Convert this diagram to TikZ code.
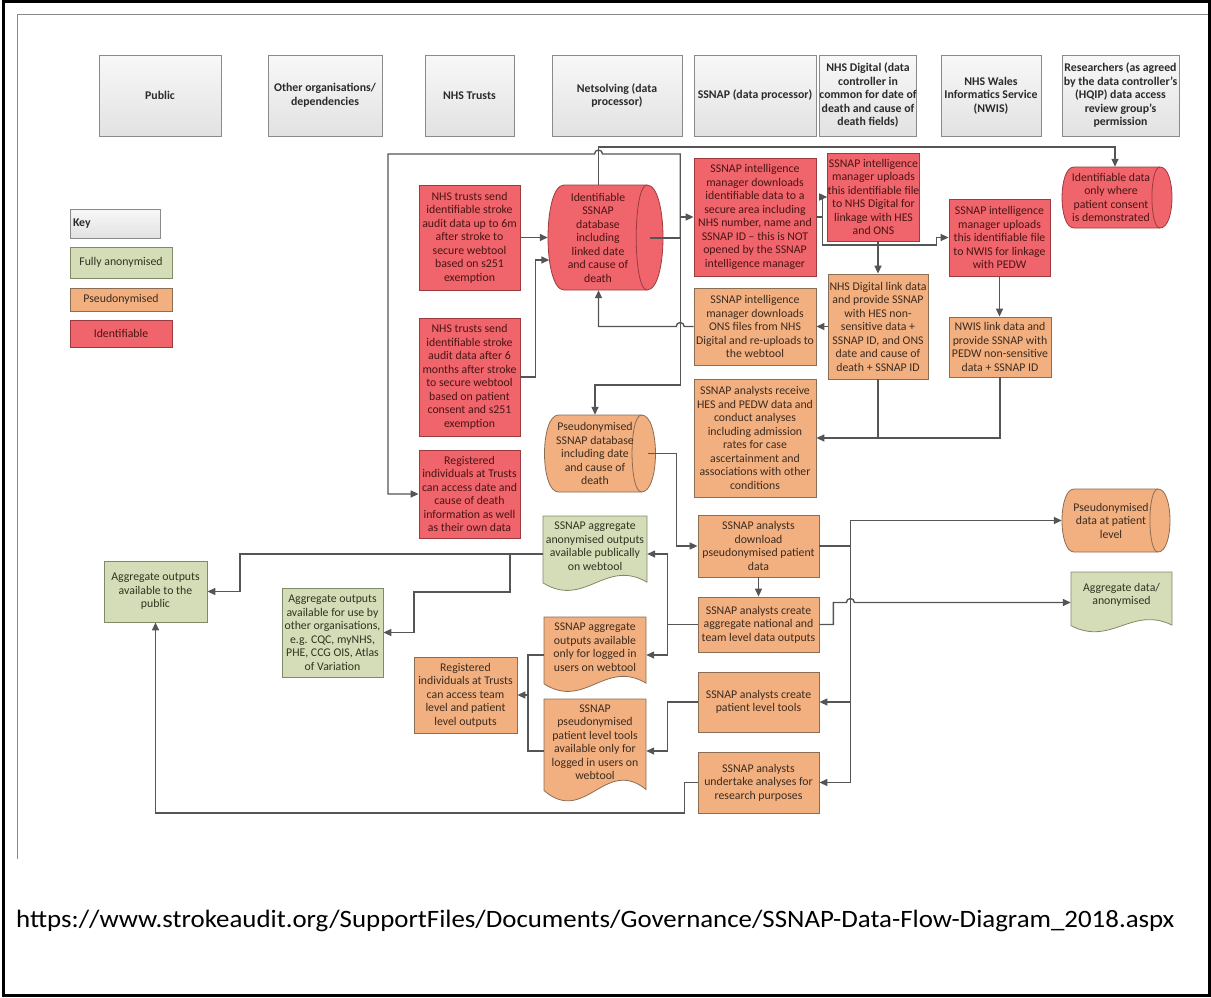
\documentclass[tikz,border=0pt]{standalone}
\usepackage{fontspec}
\setmainfont{Carlito}
\usetikzlibrary{arrows.meta,calc}
\definecolor{redF}{HTML}{F0646B}
\definecolor{redD}{HTML}{9B3B3F}
\definecolor{redT}{HTML}{4A1515}
\definecolor{orgF}{HTML}{F2B080}
\definecolor{orgD}{HTML}{8A6D55}
\definecolor{orgT}{HTML}{3D2B1F}
\definecolor{grnF}{HTML}{D5DDB8}
\definecolor{grnD}{HTML}{7F8A66}
\definecolor{grnT}{HTML}{2E3320}
\definecolor{hdrT}{HTML}{F8F8F8}
\definecolor{hdrB}{HTML}{E2E2E2}
\definecolor{hdrD}{HTML}{8A8A8A}
\definecolor{hdrX}{HTML}{2B2B2B}
\definecolor{connC}{HTML}{555555}
\newcommand\cylshape[7]{% x1 y1 x2 y2 fill draw d
 \path[fill=#5,draw=#6,line width=0.8pt] ({#1+#7},#2) -- ({#3-#7},#2)
   .. controls ({#3+0.333*#7},#2) and ({#3+0.333*#7},#4) .. ({#3-#7},#4)
   -- ({#1+#7},#4)
   .. controls ({#1-0.333*#7},#4) and ({#1-0.333*#7},#2) .. cycle;
 \draw[#6,line width=0.8pt] ({#3-#7},#2) .. controls ({#3-1.9*#7},#2) and ({#3-1.9*#7},#4) .. ({#3-#7},#4);}
\newcommand\docshape[6]{% x1 y1 x2 y2 fill draw
 \path[fill=#5,draw=#6,line width=0.8pt] (#1,#2) -- (#3,#2) -- (#3,{#2+0.87*(#4-#2)})
   .. controls ({#1+0.6*(#3-#1)},{#2+0.55*(#4-#2)}) and ({#1+0.4*(#3-#1)},{#2+1.22*(#4-#2)}) .. (#1,{#2+0.88*(#4-#2)}) -- cycle;}
\begin{document}
\begin{tikzpicture}[x=1pt,y=-1pt,
  fnt/.style={font=\fontsize{11.8}{13.5}\selectfont},
  box/.style={fnt, align=center, inner sep=0pt, line width=0.8pt},
  redbox/.style={box, fill=redF, draw=redD, text=redT},
  orgbox/.style={box, fill=orgF, draw=orgD, text=orgT},
  grnbox/.style={box, fill=grnF, draw=grnD, text=grnT},
  hdr/.style={box, top color=hdrT, bottom color=hdrB, draw=hdrD, text=hdrX, font=\bfseries\fontsize{11.8}{13.5}\selectfont},
  ghost/.style={inner sep=0pt, draw=none},
  txt/.style={fnt, align=center, inner sep=0pt},
  line/.style={draw=connC, line width=1.4pt},
  conn/.style={line, -{Triangle[length=8pt,width=7pt]}}]
\useasboundingbox (0,0) rectangle (1211,997);
% frames
\draw[line width=2.5pt] (3.5,1.5) rectangle (1209.5,995.5);
\draw[hdrD, line width=0.9pt] (17,859) -- (17,14) -- (1208,14);
% headers
\node[hdr, minimum width=122pt, minimum height=81pt] (hPublic) at (160,95.5) {Public};
\node[hdr, minimum width=114pt, minimum height=81pt] (hOther) at (325,95.5) {Other organisations/\\dependencies};
\node[hdr, minimum width=89pt, minimum height=81pt] (hTrusts) at (469.5,95.5) {NHS Trusts};
\node[hdr, minimum width=130pt, minimum height=81pt] (hNet) at (617,95.5) {Netsolving (data\\processor)};
\node[hdr, minimum width=122pt, minimum height=81pt] (hSSNAP) at (755,95.5) {SSNAP (data processor)};
\node[hdr, minimum width=80pt, minimum height=81pt] (hDigital) at (868,95.5) {NHS Digital (data\\controller in\\common for date of\\death and cause of\\death fields)};
\node[hdr, minimum width=100pt, minimum height=81pt] (hNWIS) at (991,95.5) {NHS Wales\\Informatics Service\\(NWIS)};
\node[hdr, minimum width=117pt, minimum height=81pt] (hRes) at (1120.5,95.5) {Researchers (as agreed\\by the data controller’s\\(HQIP) data access\\review group’s\\permission};
% key
\node[hdr, text width=84pt, align=left, inner xsep=3pt, minimum height=29pt] (kKey) at (115,223.5) {Key};
\node[grnbox, minimum width=102pt, minimum height=31pt] (kFull) at (121,262.5) {Fully anonymised};
\node[orgbox, minimum width=102pt, minimum height=23pt] (kPseudo) at (121,299.5) {Pseudonymised};
\node[redbox, minimum width=102pt, minimum height=27pt] (kIdent) at (121,333.5) {Identifiable};
% red column
\node[redbox, minimum width=101pt, minimum height=105pt] (nTrust1) at (469.5,237.5) {NHS trusts send\\identifiable stroke\\audit data up to 6m\\after stroke to\\secure webtool\\based on s251\\exemption};
\node[redbox, minimum width=101pt, minimum height=118pt] (nTrust2) at (469.5,377) {NHS trusts send\\identifiable stroke\\audit data after 6\\months after stroke\\to secure webtool\\based on patient\\consent and s251\\exemption};
\node[redbox, minimum width=101pt, minimum height=88pt] (nReg1) at (469.5,494) {Registered\\individuals at Trusts\\can access date and\\cause of death\\information as well\\as their own data};
% identifiable database
\cylshape{548}{185}{663}{290}{redF}{redD}{16}
\node[ghost, minimum width=115pt, minimum height=105pt] (dbId) at (605.5,237.5) {};
\node[txt, text=redT] (dbIdT) at (598,237.5) {Identifiable\\SSNAP\\database\\including\\linked date\\and cause of\\death};
\coordinate (dbTop) at ($(dbId.north)+(-7,0)$);
\coordinate (dbBot) at ($(dbId.south)+(-7,0)$);
\node[redbox, minimum width=122pt, minimum height=118pt] (nDown) at (755,217) {SSNAP intelligence\\manager downloads\\identifiable data to a\\secure area including\\NHS number, name and\\SSNAP ID – this is NOT\\opened by the SSNAP\\intelligence manager};
\node[redbox, minimum width=91pt, minimum height=88pt] (nUpDig) at (873.5,197) {SSNAP intelligence\\manager uploads\\this identifiable file\\to NHS Digital for\\linkage with HES\\and ONS};
\node[redbox, minimum width=101pt, minimum height=77pt] (nUpNWIS) at (999.5,237.5) {SSNAP intelligence\\manager uploads\\this identifiable file\\to NWIS for linkage\\with PEDW};
\cylshape{1062}{167}{1172}{228}{redF}{redD}{12}
\node[ghost, minimum width=110pt, minimum height=61pt] (dbCons) at (1115,197.5) {};
\node[txt, text=redT] (dbConsT) at (1111,197.5) {Identifiable data\\only where\\patient consent\\is demonstrated};
% orange
\node[orgbox, minimum width=122pt, minimum height=77pt] (nONS) at (755,326.5) {SSNAP intelligence\\manager downloads\\ONS files from NHS\\Digital and re-uploads to\\the webtool};
\node[orgbox, minimum width=100pt, minimum height=105pt] (nDigLink) at (878,326.5) {NHS Digital link data\\and provide SSNAP\\with HES non-\\sensitive data +\\SSNAP ID, and ONS\\date and cause of\\death + SSNAP ID};
\node[orgbox, minimum width=102pt, minimum height=60pt] (nNWISLink) at (1000,347) {NWIS link data and\\provide SSNAP with\\PEDW non-sensitive\\data + SSNAP ID};
\node[orgbox, minimum width=122pt, minimum height=118pt] (nRecv) at (755,438) {SSNAP analysts receive\\HES and PEDW data and\\conduct analyses\\including admission\\rates for case\\ascertainment and\\associations with other\\conditions};
\cylshape{544.5}{415}{655.5}{492}{orgF}{orgD}{14}
\node[ghost, minimum width=111pt, minimum height=77pt] (dbPseudo) at (600,453.5) {};
\node[txt, text=orgT] (dbPseudoT) at (595,453.5) {Pseudonymised\\SSNAP database\\including date\\and cause of\\death};
\node[orgbox, minimum width=121pt, minimum height=62pt] (nDownP) at (758.5,546) {SSNAP analysts\\download\\pseudonymised patient\\data};
\node[orgbox, minimum width=121pt, minimum height=55pt] (nAgg) at (758.5,624.5) {SSNAP analysts create\\aggregate national and\\team level data outputs};
\node[orgbox, minimum width=121pt, minimum height=60pt] (nTools) at (758.5,702) {SSNAP analysts create\\patient level tools};
\node[orgbox, minimum width=121pt, minimum height=61pt] (nRes) at (758.5,782.5) {SSNAP analysts\\undertake analyses for\\research purposes};
\cylshape{1062}{489}{1170}{552}{orgF}{orgD}{12}
\node[ghost, minimum width=108pt, minimum height=63pt] (dbPat) at (1116,520.5) {};
\node[txt, text=orgT] (dbPatT) at (1111,520.5) {Pseudonymised\\data at patient\\level};
% documents
\docshape{1071}{572}{1172}{633}{grnF}{grnD}
\node[ghost, minimum width=101pt, minimum height=61pt] (docAggAnon) at (1121.5,602.5) {};
\node[txt, text=grnT] (docAggAnonT) at (1121.5,595) {Aggregate data/\\anonymised};
\docshape{543}{516}{647}{592}{grnF}{grnD}
\node[ghost, minimum width=104pt, minimum height=76pt] (docPub) at (595,554) {};
\node[txt, text=grnT] (docPubT) at (595,546) {SSNAP aggregate\\anonymised outputs\\available publically\\on webtool};
\docshape{544}{617}{646}{693}{orgF}{orgD}
\node[ghost, minimum width=102pt, minimum height=76pt] (docLogged) at (595,655) {};
\node[txt, text=orgT] (docLoggedT) at (595,647) {SSNAP aggregate\\outputs available\\only for logged in\\users on webtool};
\docshape{544}{699}{646}{803}{orgF}{orgD}
\node[ghost, minimum width=102pt, minimum height=104pt] (docTools) at (595,751) {};
\node[txt, text=orgT] (docToolsT) at (595,742) {SSNAP\\pseudonymised\\patient level tools\\available only for\\logged in users on\\webtool};
\node[orgbox, minimum width=103pt, minimum height=76pt] (nReg2) at (465.5,695) {Registered\\individuals at Trusts\\can access team\\level and patient\\level outputs};
% green
\node[grnbox, minimum width=103pt, minimum height=61pt] (nAggPub) at (155.5,591.5) {Aggregate outputs\\available to the\\public};
\node[grnbox, minimum width=101pt, minimum height=89pt] (nAggOther) at (332.5,632.5) {Aggregate outputs\\available for use by\\other organisations,\\e.g. CQC, myNHS,\\PHE, CCG OIS, Atlas\\of Variation};
% ---------- connectors
\coordinate (jA) at ($(dbId.east)+(17,0.5)$);
\coordinate (jV1) at ($(jA)+(0,-84)$);
\coordinate (jB) at ($(jA)+(0,147)$);
\coordinate (jL) at (388,154);
\draw[line] ($(dbId.east)+(-13,0.5)$) -- (jA);
\draw[conn] (jA |- nDown.west) -- (nDown.west);
\draw[conn] (jA) -- (jV1) -- ($(dbTop |- jV1)+(4,0)$) arc[start angle=0,end angle=180,radius=4pt] -- (jL) |- (nReg1.west);
\draw[conn] (jA) -- (jB) -| ($(dbPseudo.north)+(-5,0)$);
\draw[conn] (dbTop) -- ++(0,-38) -| (dbCons.north);
\draw[conn] (nTrust1.east) -- (dbId.west);
\draw[conn] (nTrust2.east) -- ++(15,0) |- ($(dbId.west)+(1.5,22.5)$);
\draw[conn] (nONS.west) -- ($(jA |- nONS.west)+(4,0)$) arc[start angle=0,end angle=180,radius=4pt] -- (dbTop |- nONS.west) -- (dbBot);
\coordinate (jD) at ($(nDown.east)+(6,0)$);
\draw[line] (nDown.east) -- (jD);
\draw[conn] (jD) |- (nUpDig.west);
\draw[conn] (jD) -- ++(0,28) -- ++(114,0) |- (nUpNWIS.west);
\draw[conn] (nDigLink.north |- nUpDig.south) -- (nDigLink.north);
\draw[conn] (nUpNWIS.south) -- (nUpNWIS.south |- nNWISLink.north);
\draw[conn] (nDigLink.west) -- (nONS.east);
\draw[line] (nDigLink.south) -- (nDigLink.south |- nRecv.east);
\draw[conn] (nNWISLink.south) |- (nRecv.east);
\draw[conn] ($(dbPseudo.east)+(-8,0)$) -- ++(29,0) |- (nDownP.west);
\draw[conn] (nDownP.south) -- (nAgg.north);
\coordinate (jR) at ($(nDownP.east)+(31,0)$);
\draw[line] (nDownP.east) -- (jR);
\draw[conn] (jR) |- (dbPat.west);
\draw[conn] (jR) |- (nTools.east);
\draw[conn] (jR) |- (nRes.east);
\draw[conn] (nAgg.east) -- ++(14,0) |- ($(jR |- docAggAnon.west)+(-4,0)$) arc[start angle=180,end angle=0,radius=4pt] -- (docAggAnon.west);
\coordinate (jAggL) at ($(nAgg.west)+(-30,0)$);
\draw[line] (nAgg.west) -- (jAggL);
\draw[conn] (jAggL) |- (docPub.east);
\draw[conn] (jAggL) |- (docLogged.east);
\draw[conn] (nTools.west) -- ++(-30,0) |- (docTools.east);
\coordinate (jG1) at ($(docLogged.west)+(-16,0)$);
\draw[line] (docLogged.west) -- (jG1) -- (jG1 |- docTools.west) -- (docTools.west);
\draw[conn] (jG1 |- nReg2.east) -- (nReg2.east);
\coordinate (jPubL) at ($(docPub.west)+(-33,0)$);
\draw[line] (docPub.west) -- (jPubL);
\draw[conn] (jPubL) -- ++(-270,0) |- (nAggPub.east);
\draw[conn] (jPubL) -- ++(0,38) -- ++(-96,0) |- (nAggOther.east);
\draw[conn] (nRes.west) -- ++(-13,0) -- ++(0,30.5) -| (nAggPub.south);
% URL
\node[anchor=west, inner sep=0pt, font=\fontsize{25}{29}\selectfont, xscale=1.075] (url) at (16,921) {https://www.strokeaudit.org/SupportFiles/Documents/Governance/SSNAP-Data-Flow-Diagram\_2018.aspx};
\end{tikzpicture}
\end{document}
